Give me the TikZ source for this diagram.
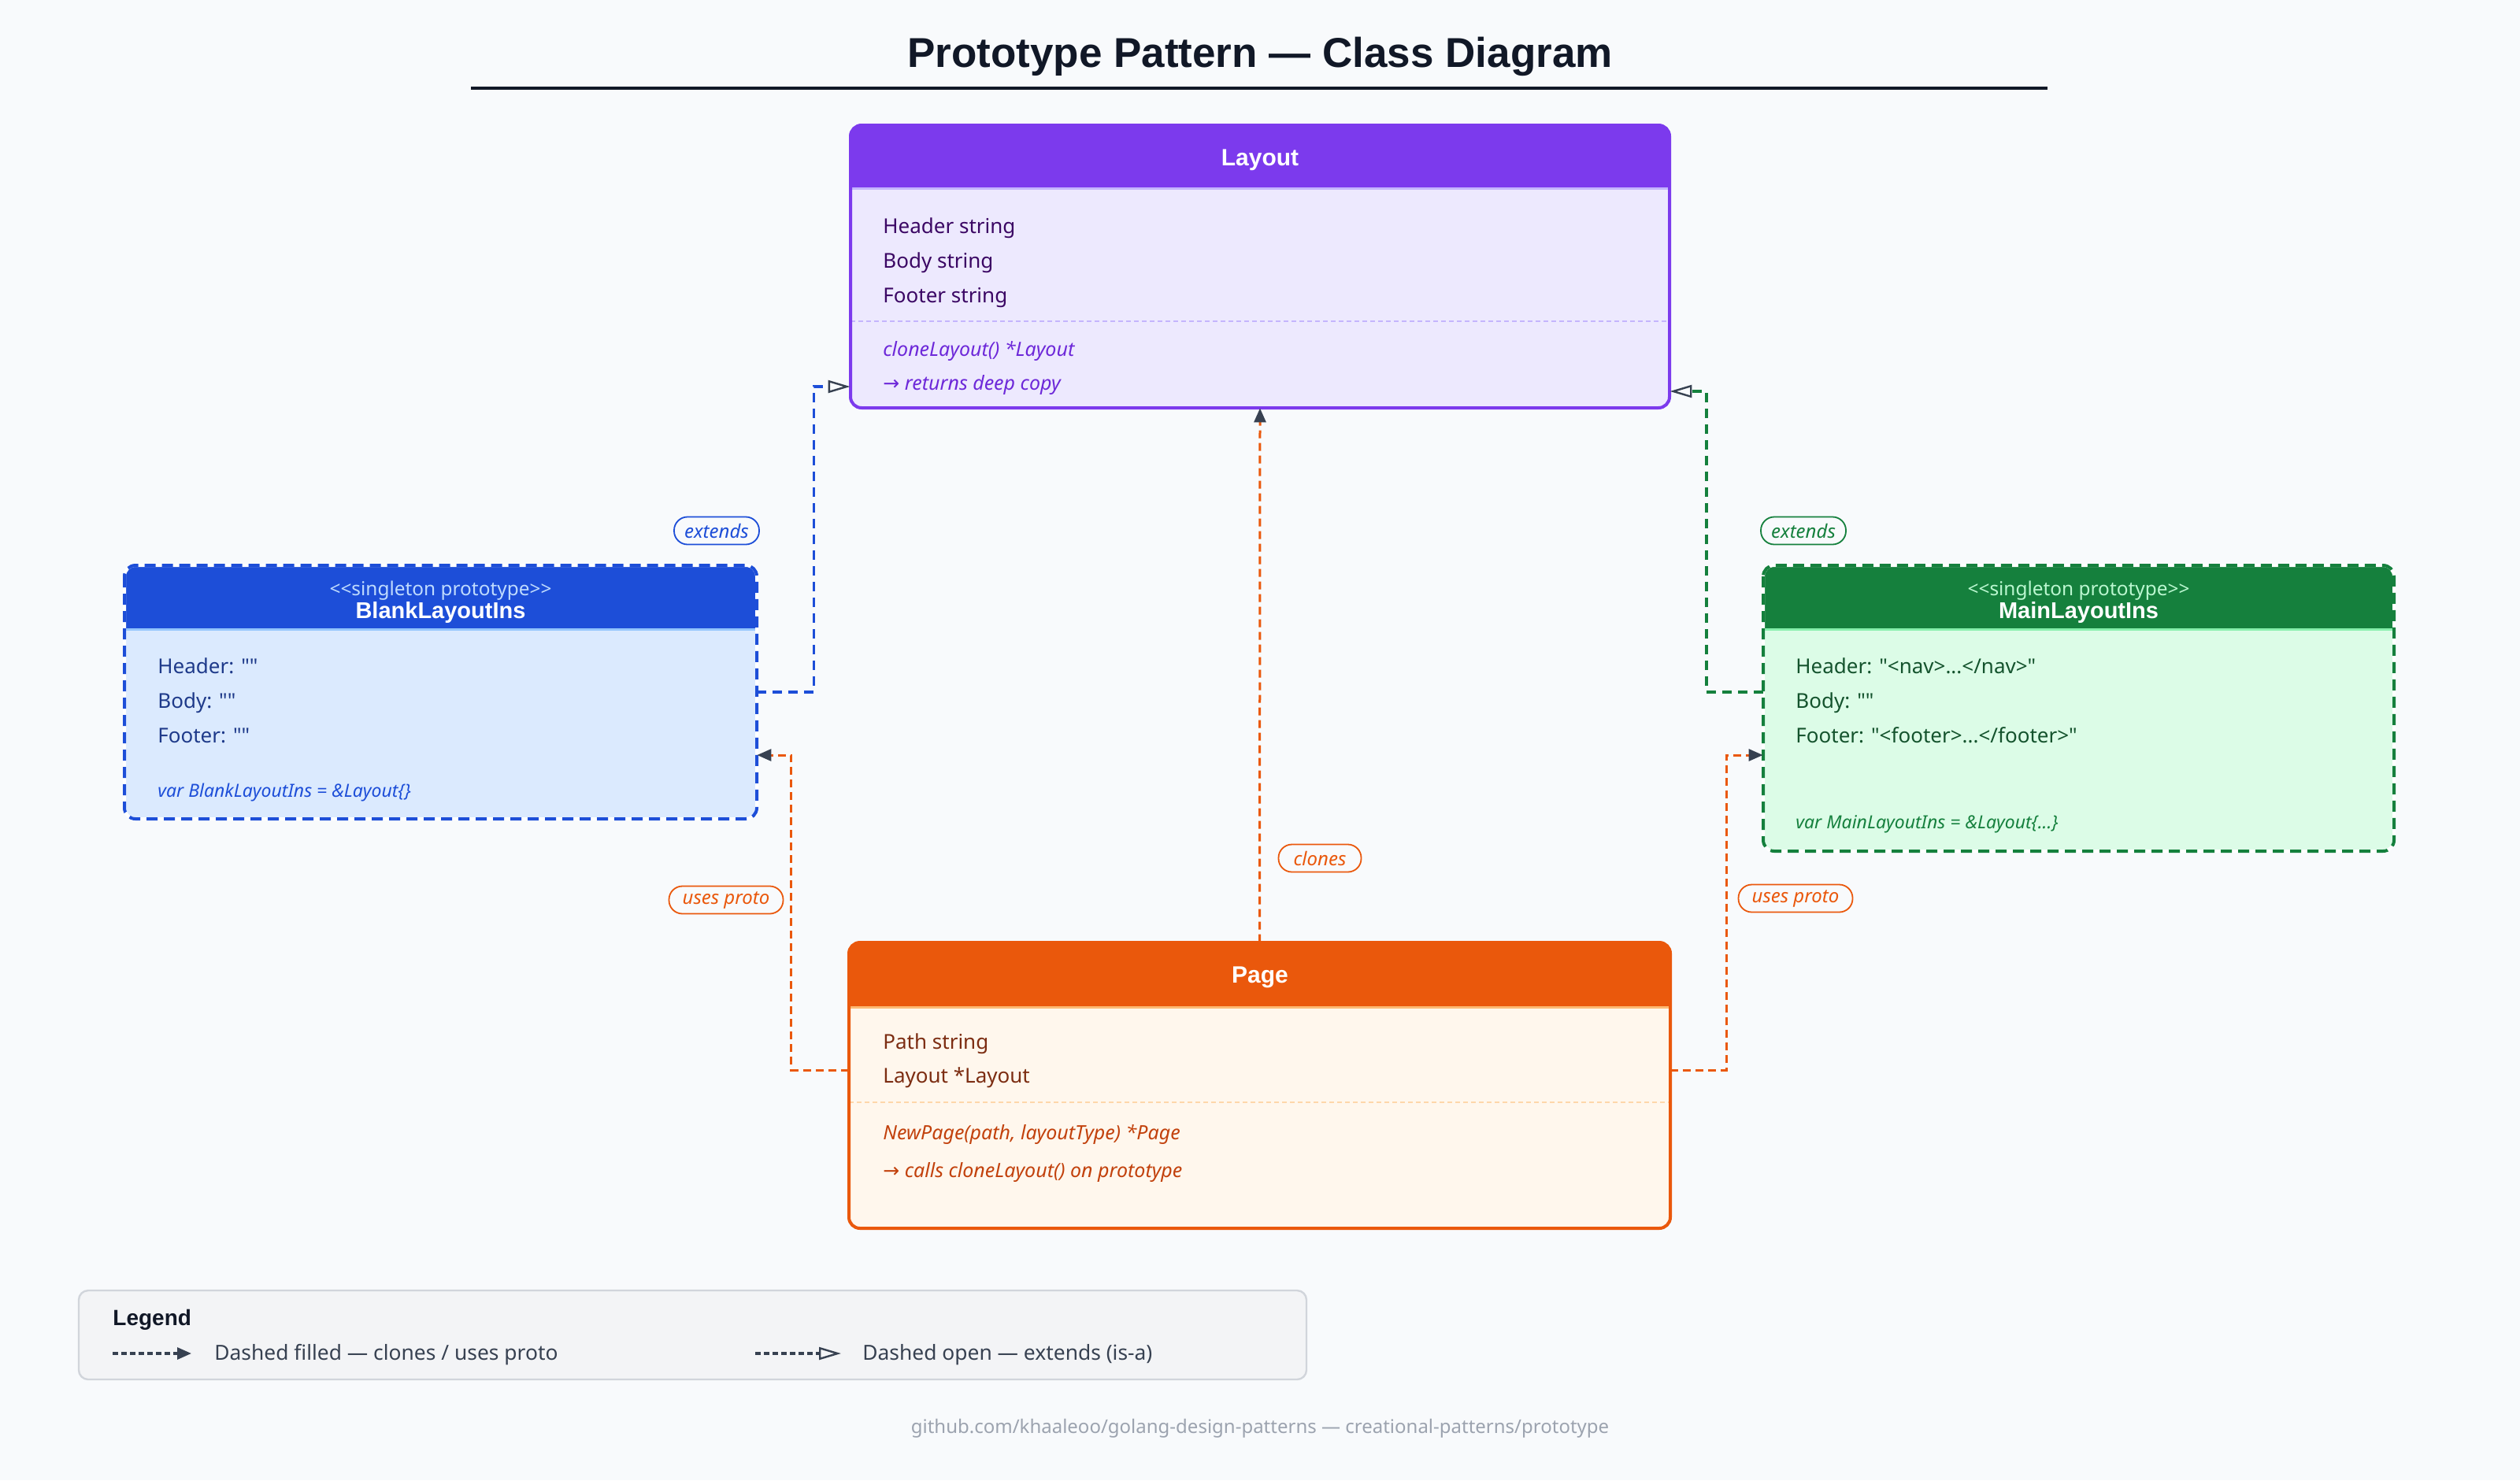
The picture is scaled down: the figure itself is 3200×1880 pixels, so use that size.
\documentclass[tikz,border=0pt]{standalone}
\usepackage{fontspec}
\setmainfont{Noto Sans}[Ligatures=TeXOff]
\newfontfamily\bfam{Liberation Sans}[Ligatures=TeXOff]
\newfontfamily\symf{DejaVu Sans}
\usetikzlibrary{arrows.meta,calc,fit}
\definecolor{bgc}{HTML}{F8FAFC}
\definecolor{titlec}{HTML}{111827}
\definecolor{phead}{HTML}{7C3AED}
\definecolor{pbody}{HTML}{EDE9FE}
\definecolor{psep}{HTML}{C4B5FD}
\definecolor{pfld}{HTML}{3B0764}
\definecolor{pmth}{HTML}{6D28D9}
\definecolor{bhead}{HTML}{1D4ED8}
\definecolor{bbody}{HTML}{DBEAFE}
\definecolor{bsep}{HTML}{93C5FD}
\definecolor{bfld}{HTML}{1E3A8A}
\definecolor{bster}{HTML}{BFDBFE}
\definecolor{ghead}{HTML}{15803D}
\definecolor{gbody}{HTML}{DCFCE7}
\definecolor{gsep}{HTML}{86EFAC}
\definecolor{gfld}{HTML}{14532D}
\definecolor{gster}{HTML}{BBF7D0}
\definecolor{ohead}{HTML}{EA580C}
\definecolor{obody}{HTML}{FFF7ED}
\definecolor{osep}{HTML}{FDBA74}
\definecolor{osep2}{HTML}{FED7AA}
\definecolor{ofld}{HTML}{7C2D12}
\definecolor{omth}{HTML}{C2410C}
\definecolor{arrowc}{HTML}{374151}
\definecolor{legfill}{HTML}{F3F4F6}
\definecolor{legline}{HTML}{D1D5DB}
\definecolor{footc}{HTML}{9CA3AF}
\newcommand\rarr{{\symf →}}
\begin{document}
\begin{tikzpicture}[x=0.5pt,y=-0.5pt,
  fld/.style={anchor=base west, inner sep=0, font=\fontsize{13}{15}\selectfont},
  mth/.style={anchor=base west, inner sep=0, font=\fontsize{12.5}{14}\selectfont\itshape},
  vartxt/.style={anchor=base west, inner sep=0, font=\fontsize{11.5}{13}\selectfont\itshape},
  headtxt/.style={anchor=base, inner sep=0, text=white, font=\bfam\bfseries\fontsize{15}{17}\selectfont},
  stertxt/.style={anchor=base, inner sep=0, font=\fontsize{12.2}{14}\selectfont},
  nametxt/.style={anchor=base, inner sep=0, text=white, font=\bfam\bfseries\fontsize{14.5}{16}\selectfont},
  boxfit/.style={inner sep=0},
  pill/.style={draw, fill=bgc, line width=0.9pt, rounded corners=8.5pt, inner sep=0,
    minimum height=17.5pt, font=\fontsize{12}{14}\selectfont\itshape},
  ext/.style={line width=1.9pt, dash pattern=on 6pt off 4pt,
    -{Triangle[open, length=14pt, width=8pt, line width=1.2pt, color=arrowc]}},
  usesarr/.style={line width=1.5pt, dash pattern=on 5pt off 3pt,
    -{Triangle[length=9pt, width=7.5pt, color=arrowc]}},
  legarr/.style={line width=1.6pt, color=arrowc, dash pattern=on 3.5pt off 2pt},
]
\useasboundingbox (0,0) rectangle (3200,1880);
\fill[bgc] (0,0) rectangle (3200,1880);

% title
\node[anchor=base, inner sep=0, text=titlec, font=\bfam\bfseries\fontsize{26.5}{30}\selectfont] (title) at (1600,85) {Prototype Pattern — Class Diagram};
\draw[titlec, line width=2pt] (598,112) -- (2600,112);

% ---------- Layout ----------
\begin{scope}
\clip[rounded corners=7pt] (1080,159) rectangle (2120,518);
\fill[pbody] (1080,159) rectangle (2120,518);
\fill[phead] (1080,159) rectangle (2120,239);
\draw[psep, line width=1.5pt] (1080,239) -- (2120,239);
\draw[psep, line width=0.8pt, dash pattern=on 3pt off 2pt] (1080,408) -- (2120,408);
\end{scope}
\draw[phead, line width=2pt, rounded corners=7pt] (1080,159) rectangle (2120,518);
\node[boxfit, fit={(1080,159) (2120,518)}] (layout) {};
\node[headtxt] at (1600,210) {Layout};
\node[fld, text=pfld] at (1121,296) {Header string};
\node[fld, text=pfld] at (1121,340) {Body string};
\node[fld, text=pfld] at (1121,384) {Footer string};
\node[mth, text=pmth] at (1121,452) {cloneLayout() *Layout};
\node[mth, text=pmth] at (1121,495) {\rarr\ returns deep copy};

% ---------- BlankLayoutIns ----------
\begin{scope}
\clip[rounded corners=7pt] (158,718) rectangle (961,1040);
\fill[bbody] (158,718) rectangle (961,1040);
\fill[bhead] (158,718) rectangle (961,799);
\draw[bsep, line width=1.5pt] (158,799) -- (961,799);
\end{scope}
\draw[white, line width=2pt, rounded corners=7pt] (158,718) rectangle (961,1040);
\draw[bhead, line width=2pt, dash pattern=on 7pt off 4pt, rounded corners=7pt] (158,718) rectangle (961,1040);
\node[boxfit, fit={(158,718) (961,1040)}] (blank) {};
\node[stertxt, text=bster] at (559.5,756) {<<singleton prototype>>};
\node[nametxt] at (559.5,785) {BlankLayoutIns};
\node[fld, text=bfld] at (200,855) {Header: ""};
\node[fld, text=bfld] at (200,899) {Body: ""};
\node[fld, text=bfld] at (200,943) {Footer: ""};
\node[vartxt, text=bhead] at (200,1012) {var BlankLayoutIns = \&Layout\{\}};

% ---------- MainLayoutIns ----------
\begin{scope}
\clip[rounded corners=7pt] (2239,718) rectangle (3040,1081);
\fill[gbody] (2239,718) rectangle (3040,1081);
\fill[ghead] (2239,718) rectangle (3040,799);
\draw[gsep, line width=1.5pt] (2239,799) -- (3040,799);
\end{scope}
\draw[white, line width=2pt, rounded corners=7pt] (2239,718) rectangle (3040,1081);
\draw[ghead, line width=2pt, dash pattern=on 7pt off 4pt, rounded corners=7pt] (2239,718) rectangle (3040,1081);
\node[boxfit, fit={(2239,718) (3040,1081)}] (main) {};
\node[stertxt, text=gster] at (2639.5,756) {<<singleton prototype>>};
\node[nametxt] at (2639.5,785) {MainLayoutIns};
\node[fld, text=gfld] at (2280,855) {Header: "<nav>...</nav>"};
\node[fld, text=gfld] at (2280,899) {Body: ""};
\node[fld, text=gfld] at (2280,943) {Footer: "<footer>...</footer>"};
\node[vartxt, text=ghead] at (2280,1052) {var MainLayoutIns = \&Layout\{...\}};

% ---------- Page ----------
\begin{scope}
\clip[rounded corners=7pt] (1078,1197) rectangle (2121,1560);
\fill[obody] (1078,1197) rectangle (2121,1560);
\fill[ohead] (1078,1197) rectangle (2121,1279);
\draw[osep, line width=1.5pt] (1078,1279) -- (2121,1279);
\draw[osep2, line width=0.8pt, dash pattern=on 3pt off 2pt] (1078,1400) -- (2121,1400);
\end{scope}
\draw[ohead, line width=2pt, rounded corners=7pt] (1078,1197) rectangle (2121,1560);
\node[boxfit, fit={(1078,1197) (2121,1560)}] (page) {};
\node[headtxt] at (1600,1248) {Page};
\node[fld, text=ofld] at (1121,1332) {Path string};
\node[fld, text=ofld] at (1121,1375) {Layout *Layout};
\node[mth, text=omth] at (1121,1447) {NewPage(path, layoutType) *Page};
\node[mth, text=omth] at (1121,1495) {\rarr\ calls cloneLayout() on prototype};

% ---------- connectors ----------
\draw[ext, bhead] (blank.east) -- ++(72,0) |- ($(layout.west)+(0,152.5)$);
\draw[ext, ghead] ($(main.west)+(0,-20.5)$) -- ++(-72,0) |- ($(layout.east)+(0,158.5)$);
\draw[usesarr, ohead] (page.north) -- (layout.south);
\draw[usesarr, ohead] ($(page.west)+(0,-19.5)$) -- ++(-73,0) |- ($(blank.east)+(0,80)$);
\draw[usesarr, ohead] ($(page.east)+(0,-19.5)$) -- ++(71,0) |- ($(main.west)+(0,59.5)$);

% labels
\node[pill, draw=bhead, text=bhead, minimum width=54pt] (lblext1) at (910,674) {extends};
\node[pill, draw=ghead, text=ghead, minimum width=54pt] (lblext2) at (2290,674) {extends};
\node[pill, draw=ohead, text=ohead, minimum width=52.5pt] (lblclone) at (1676,1090) {clones};
\node[pill, draw=ohead, text=ohead, minimum width=72.5pt] (lbluse1) at (922,1143) {uses proto};
\node[pill, draw=ohead, text=ohead, minimum width=72.5pt] (lbluse2) at (2280,1141) {uses proto};

% ---------- legend ----------
\node[boxfit, fit={(100,1639) (1659,1752)}, draw=legline, fill=legfill, line width=1.2pt, rounded corners=6pt] (legend) {};
\node[anchor=base west, inner sep=0, text=titlec, font=\bfam\bfseries\fontsize{14}{16}\selectfont] (legtitle) at (143,1683) {Legend};
\coordinate (la1) at (143,1719);
\coordinate (lb1) at (243,1719);
\coordinate (la2) at (959,1719);
\coordinate (lb2) at (1068,1719);
\draw[legarr, -{Triangle[length=9pt, width=7.5pt, color=arrowc]}] (la1) -- (lb1);
\draw[legarr, -{Triangle[open, length=14pt, width=8pt, line width=1.2pt, color=arrowc]}] (la2) -- (lb2);
\node[anchor=base west, inner sep=0, text=arrowc, font=\fontsize{13.2}{15}\selectfont] (legt1) at (272,1727) {Dashed filled — clones / uses proto};
\node[anchor=base west, inner sep=0, text=arrowc, font=\fontsize{13.2}{15}\selectfont] (legt2) at (1095,1727) {Dashed open — extends (is-a)};

% footer
\node[inner sep=0, text=footc, font=\fontsize{12}{14}\selectfont] (footer) at (1600,1814) {github.com/khaaleoo/golang-design-patterns — creational-patterns/prototype};
\end{tikzpicture}
\end{document}
